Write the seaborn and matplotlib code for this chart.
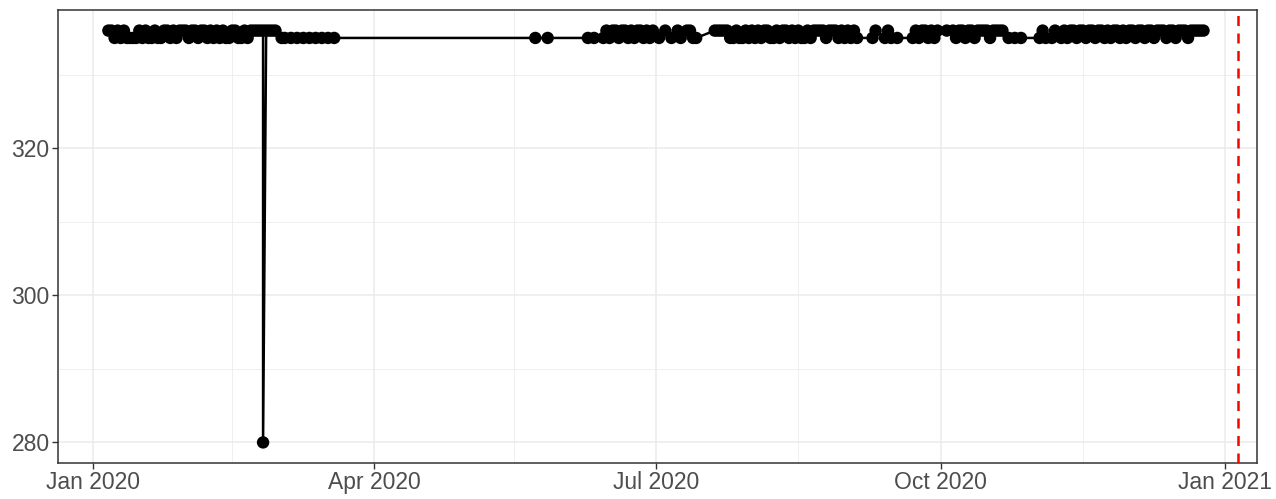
import matplotlib
matplotlib.use("Agg")
import matplotlib.pyplot as plt
import matplotlib.dates as mdates
import numpy as np
import pandas as pd
import seaborn as sns

# ─── Data: daily readings, None = no reading that day ────────────────────────
# Segment A starts Mon 6 Jan 2020 (rows are weeks)
seg_a_start = "2020-01-06"
seg_a_vals = [
    336, 336, 335, 336, 335, 336, 335,
    335, 335, 335, 336, 335, 336, 335,
    335, 336, 335, 335, 336, 336, 335,
    336, 335, 336, 336, 336, 335, 336,
    336, 335, 336, 336, 335, 336, 335,
    336, 335, 336, 335, 335, 336, 336,
    335, 335, 336, 335, 336, 336, 336,
    336, 336, 336, 336, 336, 336, None,
    335, 335, None, 335, None, 335, None,
    335, None, 335, None, 335, None, 335,
    None, 335, None, 335,
]

# a second reading on 25 Feb with the one low outlier
dip_dates = ["2020-02-25"]
dip_vals = [280]

# Segment B: two readings in late May
seg_b_start = "2020-05-23"
seg_b_vals = [335, None, None, None, 335]

# Segment C starts Tue 9 Jun 2020
seg_c_start = "2020-06-09"
seg_c_vals = [
    335, None, 335, None, None,
    335, 336, 335, 336, 336, 335, 336,
    336, 335, 336, 335, 336, 336, 335,
    336, 335, 336, None, 335, None, 336,
    None, 335, None, 336, 335, None, 336,
    336, 335, 335, None, None, None, None,
    None, 336, 336, 336, 336, 336, 335,
    335, 336, 335, 335, 336, 335, 336,
    335, 336, 335, 336, 336, 335, 335,
    336, 335, 336, 336, 335, 336, 335,
    336, 335, 335, 336, 335, 336, 336,
    336, 336, 335, 336, 336, 336, 335,
    336, 335, 336, 335, 336, 335, None,
    None, None, None, 335, 336, None, None,
    335, 336, 335, None, 335, None, None,
    None, None, 335, 336, 335, 336, 336,
    335, 336, 335, 336, None, None, 336,
    None, 336, 335, 336, 336, 335, 336,
    336, 335, 336, 336, 336, 336, 335,
    336, 336, 336, 336, None, 335, None,
    335, None, 335, None, None, None, None,
    None, 335, 336, 335, None, 335, 336,
    None, 335, 336, 335, 336, 336, 335,
    336, 336, 335, 336, 336, 335, 336,
    336, 335, 336, 335, 336, 336, 335,
    336, 335, 336, 336, 335, 336, 336,
    335, 336, 336, 335, 336, 336, 336,
    335, 336, 336, 335, 336, 336, 336,
    335, 336, 336, 336, 336, 336,
]

cutoff_date = "2021-01-05"
y_breaks = [280, 300, 320]
y_minor = [290, 310, 330]
x_minor = ["2020-02-15", "2020-05-16", "2020-08-16", "2020-11-16"]


def build_segment(start, vals):
    dates = pd.date_range(start, periods=len(vals), freq="D")
    return pd.DataFrame({"date": dates, "value": vals})


df = pd.concat([
    build_segment(seg_a_start, seg_a_vals),
    pd.DataFrame({"date": pd.to_datetime(dip_dates), "value": dip_vals}),
    build_segment(seg_b_start, seg_b_vals),
    build_segment(seg_c_start, seg_c_vals),
]).dropna()
df = df.sort_values("date", kind="mergesort").reset_index(drop=True)
df["value"] = df["value"].astype(float)

# ─── Figure ──────────────────────────────────────────────────────────────────
sns.set_style("white")
plt.rcParams["font.family"] = ["Liberation Sans", "DejaVu Sans"]

fig = plt.figure(figsize=(12.76, 4.99), dpi=100)
ax = fig.add_axes([58 / 1276, 1 - 463 / 499, (1257 - 58) / 1276, (463 - 10) / 499])

sns.lineplot(data=df, x="date", y="value", color="black", linewidth=1.8,
             estimator=None, sort=False, ax=ax, zorder=3)
sns.scatterplot(data=df, x="date", y="value", color="black", s=80,
                edgecolor="none", ax=ax, zorder=4)
ax.axvline(pd.Timestamp(cutoff_date), color="#FF0000", linewidth=1.8,
           linestyle=(0, (4, 3)), zorder=5)

# ticks & grid, theme_bw look
ax.xaxis.set_major_locator(mdates.MonthLocator(bymonth=[1, 4, 7, 10]))
ax.xaxis.set_major_formatter(mdates.DateFormatter("%b %Y"))
ax.set_xticks([pd.Timestamp(d) for d in x_minor], minor=True)
ax.set_yticks(y_breaks)
ax.set_yticks(y_minor, minor=True)

# axes ranges (set after ticks so they are not widened)
ax.set_xlim(pd.Timestamp("2019-12-20 17:00"), pd.Timestamp("2021-01-11 07:00"))
ax.set_ylim(277.2, 338.8)

ax.grid(which="major", color="#EBEBEB", linewidth=1.1, zorder=0)
ax.grid(which="minor", color="#EBEBEB", linewidth=0.55, zorder=0)
ax.set_axisbelow(True)

ax.tick_params(which="major", length=4, width=1.0, color="#333333",
               labelsize=16.5, labelcolor="#4D4D4D", pad=2, bottom=True, left=True)
ax.tick_params(which="minor", length=0)
for sp in ax.spines.values():
    sp.set_color("#333333")
    sp.set_linewidth(1.1)

ax.set_xlabel("")
ax.set_ylabel("")

plt.savefig("out.png", dpi=100)
plt.close(fig)
